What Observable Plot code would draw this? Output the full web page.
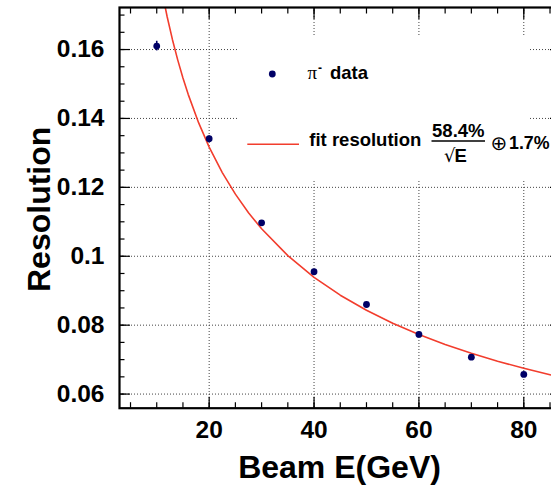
<!DOCTYPE html>
<html>
<head>
<meta charset="utf-8">
<script src="https://cdn.jsdelivr.net/npm/d3@7"></script>
<script src="https://cdn.jsdelivr.net/npm/@observablehq/plot@0.6"></script>
<style>
  html, body { margin: 0; padding: 0; background: #fff; overflow: hidden; }
  #wrap { position: relative; width: 551px; height: 486px; overflow: hidden; }
  #wrap svg { position: absolute; left: 0; top: 0; max-width: none !important; }
</style>
</head>
<body>
<div id="wrap"></div>
<script>
// ---- data ----
const beamE = [10, 20, 30, 40, 50, 60, 70, 80];
const resolution = [0.1610, 0.1341, 0.1097, 0.0955, 0.0860, 0.0773, 0.0707, 0.0657];
const resErr = [0.0014, 0.0008, 0.0006, 0.0005, 0.0004, 0.0004, 0.0003, 0.0003];

// fit curve
const fitE = [10, 11, 12, 13, 14, 15, 16, 18, 20, 22.5, 25, 27.5, 30, 35, 40, 45, 50, 55, 60, 65, 70, 75, 80, 85, 90];
const fitRes = [0.18546, 0.17690, 0.16944, 0.16286, 0.15700, 0.15174, 0.14699, 0.13870, 0.13169, 0.12429,
                0.11803, 0.11265, 0.10797, 0.10017, 0.09389, 0.08870, 0.08432, 0.08056, 0.07729, 0.07440,
                0.07184, 0.06954, 0.06747, 0.06559, 0.06386];

const xMajor = [20, 40, 60, 80];
const xTickLabels = ["20", "40", "60", "80"];
const xMinor = [5, 10, 15, 20, 25, 30, 35, 40, 45, 50, 55, 60, 65, 70, 75, 80, 85];
const yMajor = [0.06, 0.08, 0.10, 0.12, 0.14, 0.16];
const yTickLabels = ["0.06", "0.08", "0.1", "0.12", "0.14", "0.16"];
const yMinor = [0.060, 0.065, 0.070, 0.075, 0.080, 0.085, 0.090, 0.095, 0.100, 0.105, 0.110,
                0.115, 0.120, 0.125, 0.130, 0.135, 0.140, 0.145, 0.150, 0.155, 0.160, 0.165, 0.170];

const xTitle = "Beam E(GeV)";
const yTitle = "Resolution";

const points = beamE.map((e, i) => ({E: e, res: resolution[i], err: resErr[i]}));
const fit = fitE.map((e, i) => ({E: e, res: fitRes[i]}));

const RED = "#f23d2d";
const NAVY = "#000066";
const FONT = "'Liberation Sans', Arial, Helvetica, sans-serif";

const W = 560, H = 486;
const chart = Plot.plot({
  width: W,
  height: H,
  marginLeft: 119,
  marginRight: 0,
  marginTop: 7,
  marginBottom: 78.3,
  style: {fontFamily: FONT, background: "transparent", color: "#000", maxWidth: "none"},
  x: {domain: [2.9, 87.0], label: null},
  y: {domain: [0.0559, 0.1722], label: null},
  marks: [
    // dotted grid
    Plot.ruleX(xMajor, {stroke: "#444", strokeWidth: 1, strokeDasharray: "1,2"}),
    Plot.ruleY(yMajor, {stroke: "#444", strokeWidth: 1, strokeDasharray: "1,2"}),
    // fit curve
    Plot.line(fit, {x: "E", y: "res", stroke: RED, strokeWidth: 1.6, clip: true}),
    // data
    Plot.ruleX(points, {x: "E", y1: d => d.res - d.err, y2: d => d.res + d.err, stroke: NAVY, strokeWidth: 1.6}),
    Plot.dot(points, {x: "E", y: "res", r: 3.4, fill: NAVY, stroke: "none"}),
    // inward ticks
    Plot.axisX({anchor: "bottom", ticks: xMinor, tickSize: -5.5, fill: "none", label: null, strokeWidth: 1.2}),
    Plot.axisX({anchor: "bottom", ticks: xMajor, tickSize: -11, fill: "none", label: null, strokeWidth: 1.2}),
    Plot.axisX({anchor: "top", ticks: xMinor, tickSize: -5.5, fill: "none", label: null, strokeWidth: 1.2}),
    Plot.axisX({anchor: "top", ticks: xMajor, tickSize: -11, fill: "none", label: null, strokeWidth: 1.2}),
    Plot.axisY({anchor: "left", ticks: yMinor, tickSize: -5.5, fill: "none", label: null, strokeWidth: 1.2}),
    Plot.axisY({anchor: "left", ticks: yMajor, tickSize: -11, fill: "none", label: null, strokeWidth: 1.2}),
    Plot.axisY({anchor: "right", ticks: yMinor, tickSize: -5.5, fill: "none", label: null, strokeWidth: 1.2}),
    Plot.axisY({anchor: "right", ticks: yMajor, tickSize: -11, fill: "none", label: null, strokeWidth: 1.2}),
    // tick labels
    Plot.axisX({anchor: "bottom", ticks: xMajor, tickSize: 0, tickPadding: 12.3, label: null,
      tickFormat: (d, i) => xTickLabels[i], fontSize: 24.5, fontWeight: "bold"}),
    Plot.axisY({anchor: "left", ticks: yMajor, tickSize: 0, tickPadding: 15, label: null,
      tickFormat: (d, i) => yTickLabels[i], fontSize: 24.5, fontWeight: "bold"}),
    // frame
    Plot.frame({stroke: "#000", strokeWidth: 2.2}),
    // titles
    Plot.text([xTitle], {frameAnchor: "bottom", lineAnchor: "bottom", textAnchor: "middle", dy: 69.5, dx: -0.5,
      text: d => d, fontSize: 32, fontWeight: "bold"}),
    Plot.text([yTitle], {frameAnchor: "left", lineAnchor: "bottom", textAnchor: "middle", rotate: -90, dx: -70, dy: 1.5,
      text: d => d, fontSize: 32, fontWeight: "bold"})
  ]
});
chart.style.maxWidth = "none";
document.getElementById("wrap").appendChild(chart);

// legend (drawn over the grid like the original)
const ns = "http://www.w3.org/2000/svg";
const leg = document.createElementNS(ns, "svg");
leg.setAttribute("width", W);
leg.setAttribute("height", H);
leg.style.fontFamily = FONT;
function el(tag, attrs, txt) {
  const e = document.createElementNS(ns, tag);
  for (const k in attrs) e.setAttribute(k, attrs[k]);
  if (txt != null) e.textContent = txt;
  leg.appendChild(e);
  return e;
}
el("rect", {x: 237, y: 37, width: 292, height: 143, fill: "#fff"});
el("circle", {cx: 272.3, cy: 74, r: 3.4, fill: NAVY});
el("text", {x: 307.5, y: 79.3, "font-family": "'Liberation Serif', 'DejaVu Serif', serif", "font-size": 19}, "π");
el("text", {x: 318, y: 72, "font-size": 12, "font-weight": "bold"}, "-");
el("text", {x: 330, y: 79.3, "font-size": 18.5, "font-weight": "bold"}, "data");
el("line", {x1: 247.3, x2: 299, y1: 144.3, y2: 144.3, stroke: RED, "stroke-width": 1.6});
el("text", {x: 309.3, y: 146.3, "font-size": 18.5, "font-weight": "bold"}, "fit resolution");
el("text", {x: 458.3, y: 137.3, "font-size": 18.5, "font-weight": "bold", "text-anchor": "middle"}, "58.4%");
el("line", {x1: 431.5, x2: 485, y1: 141, y2: 141, stroke: "#000", "stroke-width": 1.3});
el("text", {x: 444, y: 161.7, "font-size": 18, "font-family": "'DejaVu Sans', sans-serif"}, "√");
el("text", {x: 454.5, y: 161.7, "font-size": 18.5, "font-weight": "bold"}, "E");
el("text", {x: 490.5, y: 150, "font-size": 20, "font-family": "'DejaVu Sans', sans-serif"}, "⊕");
el("text", {x: 509, y: 149.3, "font-size": 17.8, "font-weight": "bold"}, "1.7%");
document.getElementById("wrap").appendChild(leg);
</script>
</body>
</html>
